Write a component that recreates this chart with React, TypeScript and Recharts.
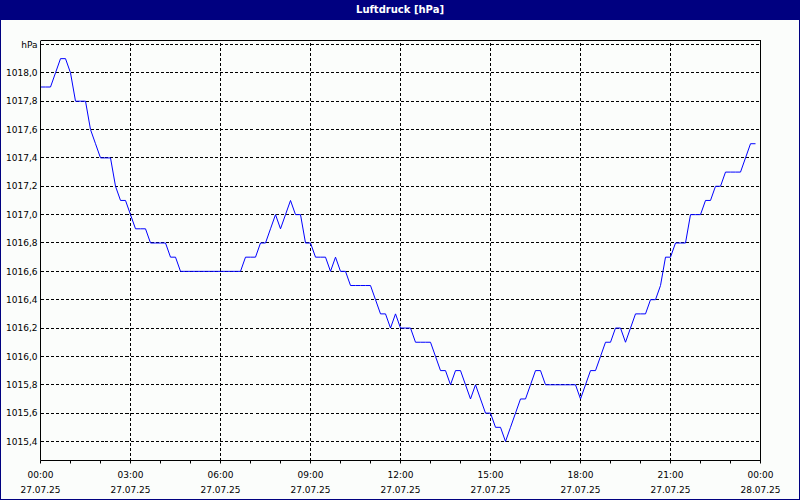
import React from 'react';
import { LineChart, Line, XAxis, YAxis, CartesianGrid, ReferenceLine } from 'recharts';

// Luftdruck, 10-Minuten-Werte vom 27.07.25 00:00 bis 23:50
const STEP_MIN = 10;
const PRESSURE = [
  1017.9, 1017.9, 1017.9, 1018.0, 1018.1, 1018.1, 1018.0, 1017.8, 1017.8, 1017.8,
  1017.6, 1017.5, 1017.4, 1017.4, 1017.4, 1017.2, 1017.1, 1017.1, 1017.0, 1016.9,
  1016.9, 1016.9, 1016.8, 1016.8, 1016.8, 1016.8, 1016.7, 1016.7, 1016.6, 1016.6,
  1016.6, 1016.6, 1016.6, 1016.6, 1016.6, 1016.6, 1016.6, 1016.6, 1016.6, 1016.6,
  1016.6, 1016.7, 1016.7, 1016.7, 1016.8, 1016.8, 1016.9, 1017.0, 1016.9, 1017.0,
  1017.1, 1017.0, 1017.0, 1016.8, 1016.8, 1016.7, 1016.7, 1016.7, 1016.6, 1016.7,
  1016.6, 1016.6, 1016.5, 1016.5, 1016.5, 1016.5, 1016.5, 1016.4, 1016.3, 1016.3,
  1016.2, 1016.3, 1016.2, 1016.2, 1016.2, 1016.1, 1016.1, 1016.1, 1016.1, 1016.0,
  1015.9, 1015.9, 1015.8, 1015.9, 1015.9, 1015.8, 1015.7, 1015.8, 1015.7, 1015.6,
  1015.6, 1015.5, 1015.5, 1015.4, 1015.5, 1015.6, 1015.7, 1015.7, 1015.8, 1015.9,
  1015.9, 1015.8, 1015.8, 1015.8, 1015.8, 1015.8, 1015.8, 1015.8, 1015.7, 1015.8,
  1015.9, 1015.9, 1016.0, 1016.1, 1016.1, 1016.2, 1016.2, 1016.1, 1016.2, 1016.3,
  1016.3, 1016.3, 1016.4, 1016.4, 1016.5, 1016.7, 1016.7, 1016.8, 1016.8, 1016.8,
  1017.0, 1017.0, 1017.0, 1017.1, 1017.1, 1017.2, 1017.2, 1017.3, 1017.3, 1017.3,
  1017.3, 1017.4, 1017.5, 1017.5,
];

const X_TICKS = [0, 60, 120, 180, 240, 300, 360, 420, 480, 540, 600, 660, 720, 780, 840, 900, 960, 1020, 1080, 1140, 1200, 1260, 1320, 1380, 1440];
const X_GRID = [180, 360, 540, 720, 900, 1080, 1260];
const TIME_LABELS = ['00:00', '03:00', '06:00', '09:00', '12:00', '15:00', '18:00', '21:00', '00:00'];
const DATE_LABELS = ['27.07.25', '27.07.25', '27.07.25', '27.07.25', '27.07.25', '27.07.25', '27.07.25', '27.07.25', '28.07.25'];
const Y_TICKS = [1015.4, 1015.6, 1015.8, 1016.0, 1016.2, 1016.4, 1016.6, 1016.8, 1017.0, 1017.2, 1017.4, 1017.6, 1017.8, 1018.0, 1018.2];
const Y_MIN = 1015.266;
const Y_MAX = 1018.228;

const data = PRESSURE.map((p, i) => ({ t: i * STEP_MIN, p }));

const NAVY = '#000080';
const FONT = '"DejaVu Sans", sans-serif';

const XTick = (props: any) => {
  const { x, y, payload } = props;
  if (payload.value % 180 !== 0) return null;
  const idx = payload.value / 180;
  return (
    <text x={x} y={y} textAnchor="middle" fontSize={9} fontFamily={FONT} fill="#000">
      <tspan x={x} dy={12}>{TIME_LABELS[idx]}</tspan>
      <tspan x={x} dy={15}>{DATE_LABELS[idx]}</tspan>
    </text>
  );
};

const fmtY = (v: number) => (v > 1018.1 ? 'hPa' : v.toFixed(1).replace('.', ','));

export default function App() {
  return (
    <div style={{ position: 'relative', width: 800, height: 500, background: '#fbfdfb', fontFamily: FONT }}>
      <style>{'body{margin:0}'}</style>
      <div
        style={{
          position: 'absolute', left: 0, top: 0, width: 800, height: 20, background: NAVY,
          color: '#fff', fontWeight: 'bold', fontSize: 10, lineHeight: '20px', textAlign: 'center',
        }}
      >
        Luftdruck [hPa]
      </div>
      <div style={{ position: 'absolute', left: 0, top: 0 }}>
        <LineChart width={800} height={500} data={data} margin={{ top: 40.5, right: 39.5, bottom: 9.5, left: 0.5 }}>
          <CartesianGrid vertical={false} stroke="#000" strokeDasharray="3 2" shapeRendering="crispEdges" />
          {X_GRID.map((g) => (
            <ReferenceLine key={g} x={g} stroke="#000" strokeDasharray="3 2" shapeRendering="crispEdges" />
          ))}
          <ReferenceLine x={1440} stroke="#000" shapeRendering="crispEdges" />
          <ReferenceLine y={Y_MAX} stroke="#000" shapeRendering="crispEdges" />
          <XAxis
            dataKey="t"
            type="number"
            domain={[0, 1440]}
            ticks={X_TICKS}
            interval={0}
            height={30}
            tickSize={3}
            tickMargin={2}
            stroke="#000"
            tick={<XTick />}
          />
          <YAxis
            type="number"
            domain={[Y_MIN, Y_MAX]}
            ticks={Y_TICKS}
            interval={0}
            width={40}
            tickLine={false}
            tickSize={0}
            tickMargin={3}
            stroke="#000"
            tickFormatter={fmtY}
            tick={{ fontSize: 9, fontFamily: FONT, fill: '#000' }}
            allowDataOverflow
          />
          <Line
            type="linear"
            dataKey="p"
            stroke="#0000ff"
            strokeWidth={1}
            dot={false}
            isAnimationActive={false}
          />
        </LineChart>
      </div>
      <div
        style={{
          position: 'absolute', left: 0, top: 0, width: 800, height: 500, boxSizing: 'border-box',
          border: `1px solid ${NAVY}`, pointerEvents: 'none',
        }}
      />
    </div>
  );
}
